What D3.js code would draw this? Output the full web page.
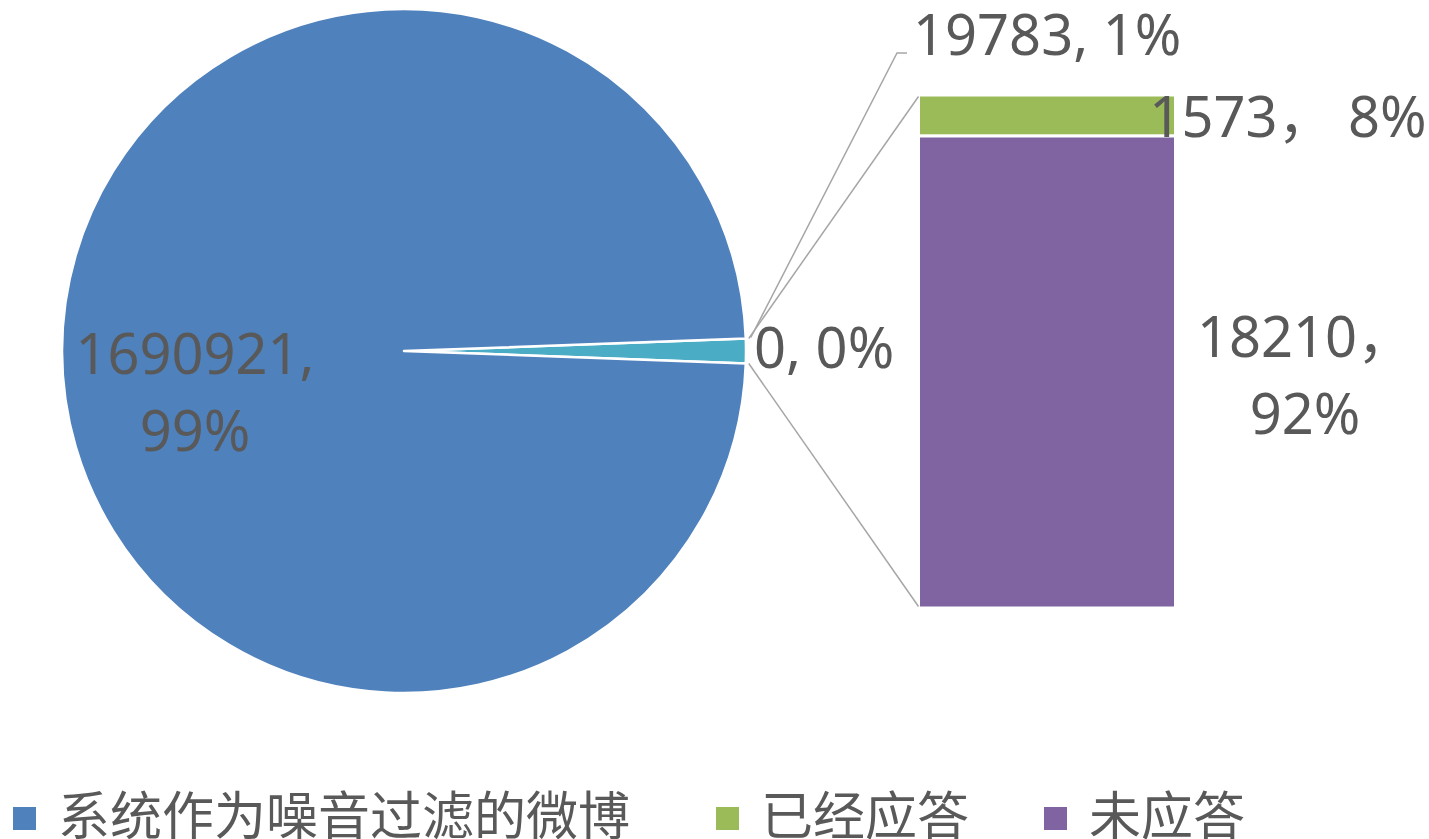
<!DOCTYPE html>
<html>
<head>
<meta charset="utf-8">
<script src="https://cdn.jsdelivr.net/npm/d3@7"></script>
<style>
  body { margin: 0; background: #fff; }
  text { font-family: "Noto Sans", "Noto Sans CJK SC", sans-serif; }
</style>
</head>
<body>
<script>
// data
var pieCategories = ['系统作为噪音过滤的微博', '其他'];
var pieValues = [1690921, 19783];
var barCategories = ['未应答', '已经应答'];
var barValues = [18210, 1573];
var legendCategories = ['系统作为噪音过滤的微博', '已经应答', '未应答'];
var emptyLabel = '0, 0%';

var width = 1429;
var height = 839;
var textColor = '#595959';
var lineColor = '#A6A6A6';
var color = d3.scaleOrdinal()
    .domain(['系统作为噪音过滤的微博', '其他', '已经应答', '未应答'])
    .range(['#4F81BD', '#4BACC6', '#9BBB59', '#8064A2'])
    ;
var pct = d3.format('.0%');

var svg = d3.select('body')
    .append('svg')
    .attr('width', width)
    .attr('height', height)
    ;

// pie, the small slice centred on 3 o'clock
var cx = 404, cy = 351, r = 342;
var total = d3.sum(pieValues);
var share = pieValues[1] / total;
var start = Math.PI / 2 - share * Math.PI;

var pie = d3.pie()
    .sort(null)
    .value(function (i) { return pieValues[i]; })
    .startAngle(start)
    .endAngle(start + 2 * Math.PI)
    ;
var slices = pie([1, 0]);
var arc = d3.arc().innerRadius(0).outerRadius(r);

var g = svg.append('g').attr('transform', 'translate(' + cx + ',' + cy + ')');
g.selectAll('path')
    .data(slices)
    .enter()
    .append('path')
    .attr('d', arc)
    .attr('fill', function (d) { return color(pieCategories[d.data]); })
    .attr('stroke', '#fff')
    .attr('stroke-width', 2.5)
    .attr('stroke-linejoin', 'round')
    ;

// bar of the split-off slice
var barX = 918.5, barW = 257;
var y = d3.scaleLinear()
    .domain([0, d3.sum(barValues)])
    .range([608, 95])
    ;
var stacked = [];
barValues.reduce(function (acc, v, i) {
    stacked.push({ name: barCategories[i], value: v, y0: acc, y1: acc + v });
    return acc + v;
}, 0);

svg.selectAll('rect.bar')
    .data(stacked)
    .enter()
    .append('rect')
    .attr('class', 'bar')
    .attr('x', barX)
    .attr('width', barW)
    .attr('y', function (d) { return y(d.y1); })
    .attr('height', function (d) { return y(d.y0) - y(d.y1); })
    .attr('fill', function (d) { return color(d.name); })
    .attr('stroke', '#fff')
    .attr('stroke-width', 3)
    ;

// connector lines
function onRim(a, rr) {
    return [cx + rr * Math.sin(a), cy - rr * Math.cos(a)];
}
var other = slices[0];
var pTop = onRim(other.startAngle, r + 3);
var pBot = onRim(other.endAngle, r + 3);
var lines = [
    [pTop, [barX, y(d3.sum(barValues)) + 1.5]],
    [pBot, [barX, y(0) - 1.5]],
    [[pTop[0] + 2, pTop[1] - 1], [897, 53], [907, 53]]
];
svg.selectAll('path.leader')
    .data(lines)
    .enter()
    .append('path')
    .attr('class', 'leader')
    .attr('d', d3.line())
    .attr('fill', 'none')
    .attr('stroke', lineColor)
    .attr('stroke-width', 1.5)
    ;

// data labels
var labels = [
    { lines: [pieValues[0] + ',', pct(pieValues[0] / total)], x: 195, y: 374, anchor: 'middle' },
    { lines: [pieValues[1] + ', ' + pct(share)], x: 913, y: 55, anchor: 'start' },
    { lines: [emptyLabel], x: 754, y: 368, anchor: 'start' },
    { lines: [barValues[1] + '， ' + pct(barValues[1] / d3.sum(barValues))], x: 1288, y: 137, anchor: 'middle' },
    { lines: [barValues[0] + '，', pct(barValues[0] / d3.sum(barValues))], x: 1305, y: 357, anchor: 'middle' }
];
var lt = svg.selectAll('text.lbl')
    .data(labels)
    .enter()
    .append('text')
    .attr('class', 'lbl')
    .attr('x', function (d) { return d.x; })
    .attr('y', function (d) { return d.y; })
    .attr('text-anchor', function (d) { return d.anchor; })
    .attr('fill', textColor)
    .style('font-size', '56px')
    ;
lt.selectAll('tspan')
    .data(function (d) { return d.lines.map(function (s) { return { s: s, x: d.x }; }); })
    .enter()
    .append('tspan')
    .attr('x', function (d) { return d.x; })
    .attr('dy', function (d, i) { return i ? 77 : 0; })
    .text(function (d) { return d.s; })
    ;

// legend
var legendX = [13, 716, 1044];
var leg = svg.selectAll('g.legend')
    .data(legendCategories)
    .enter()
    .append('g')
    .attr('class', 'legend')
    .attr('transform', function (d, i) { return 'translate(' + legendX[i] + ',0)'; })
    ;
leg.append('rect')
    .attr('x', 0)
    .attr('y', 807)
    .attr('width', 23)
    .attr('height', 23)
    .attr('fill', color)
    ;
leg.append('text')
    .attr('x', 45)
    .attr('y', 835)
    .attr('fill', textColor)
    .style('font-family', '"Noto Sans CJK SC", sans-serif')
    .style('font-size', '52px')
    .text(function (d) { return d; })
    ;
</script>
</body>
</html>
